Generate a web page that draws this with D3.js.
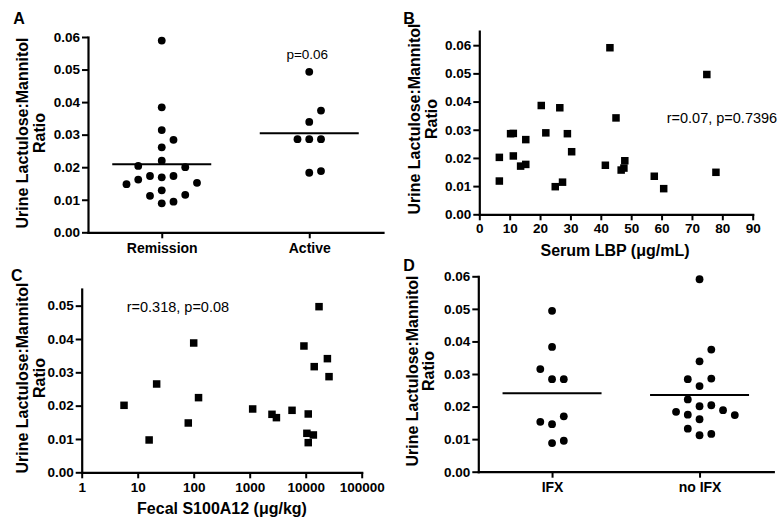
<!DOCTYPE html>
<html>
<head>
<meta charset="utf-8">
<script src="https://cdn.jsdelivr.net/npm/d3@7"></script>
<style>
  html, body { margin: 0; padding: 0; background: #fff; }
  svg { display: block; font-family: "Liberation Sans", Arial, Helvetica, sans-serif; }
  .axis .domain { stroke: #000; stroke-width: 2.2px; stroke-linecap: square; }
  .axis .tick line { stroke: #000; stroke-width: 2px; }
  .axis .tick text { font-family: "Liberation Sans", Arial, Helvetica, sans-serif; font-weight: bold; font-size: 13.5px; fill: #000; }
  .axis.cat .tick text { font-size: 14px; }
</style>
</head>
<body>
<svg id="chart" width="783" height="521"></svg>
<script>
// ---------------- DATA ----------------
// Panel A: disease activity groups
const groupsA = ["Remission", "Active"];
const remission = [0.0589, 0.0384, 0.0314, 0.0261, 0.0284, 0.0220, 0.0169, 0.0173, 0.0173, 0.0200,
                   0.0204, 0.0162, 0.0129, 0.0089, 0.0094, 0.0112, 0.0115, 0.0152, 0.0148];
const active = [0.0493, 0.0339, 0.0374, 0.0286, 0.0286, 0.0286, 0.0183, 0.0188];
const pTextA = "p=0.06";

// Panel B: serum LBP vs ratio
const lbp      = [6.6, 6.6, 10.3, 11.2, 11.2, 13.6, 15.3, 15.3, 20.4, 21.9, 25.0, 26.5, 27.4,
                  29.0, 30.4, 43.0, 45.0, 41.5, 46.7, 47.6, 47.9, 57.6, 60.7, 74.9, 77.9];
const lbpRatio = [0.0202, 0.0118, 0.0286, 0.0287, 0.0207, 0.0171, 0.0177, 0.0265, 0.0386, 0.0289,
                  0.0098, 0.0378, 0.0114, 0.0286, 0.0222, 0.0591, 0.0342, 0.0174, 0.0157, 0.0164,
                  0.0190, 0.0135, 0.0091, 0.0496, 0.0149];
const statB = "r=0.07, p=0.7396";

// Panel C: fecal S100A12 vs ratio
const s100      = [5.7, 16, 21.8, 80, 100, 122, 1130, 2500, 3000, 5700, 9300, 17300, 14200,
                   24400, 26100, 11100, 10500, 13700, 11100];
const s100Ratio = [0.0201, 0.0097, 0.0265, 0.0148, 0.0388, 0.0224, 0.0190, 0.0174, 0.0164, 0.0186,
                   0.0379, 0.0497, 0.0317, 0.0341, 0.0287, 0.0175, 0.0117, 0.0112, 0.0089];
const statC = "r=0.318, p=0.08";

// Panel D: infliximab groups
const groupsD = ["IFX", "no IFX"];
const ifx   = [0.0494, 0.0383, 0.0284, 0.0284, 0.0315, 0.0146, 0.0170, 0.0153, 0.0088, 0.0095];
const noIfx = [0.0591, 0.0339, 0.0375, 0.0263, 0.0286, 0.0284, 0.0201, 0.0204, 0.0222, 0.0189,
               0.0184, 0.0161, 0.0112, 0.0116, 0.0132, 0.0175, 0.0174];

// Ticks and labels
const ratioTicks  = [0, 0.01, 0.02, 0.03, 0.04, 0.05, 0.06];
const ratioTicksC = [0, 0.01, 0.02, 0.03, 0.04, 0.05];
const lbpTicks    = [0, 10, 20, 30, 40, 50, 60, 70, 80, 90];
const s100Ticks   = [1, 10, 100, 1000, 10000, 100000];
const yTitle1 = "Urine Lactulose:Mannitol";
const yTitle2 = "Ratio";
const xTitleB = "Serum LBP (\u03BCg/mL)";
const xTitleC = "Fecal S100A12 (\u03BCg/kg)";
const panelLetters = ["A", "B", "C", "D"];

// ---------------- LAYOUT / STYLE ----------------
const FONT = '"Liberation Sans", Arial, Helvetica, sans-serif';
const DOT_R = 3.9, SQ = 7.5;
const SWARM_STEP = 11.75, SWARM_COLLIDE = 12.8, SWARM_MIN = 12.65;
const MEAN_HALF = 49.5;

const svg = d3.select("#chart");
const fmt2 = d3.format(".2f");

// beeswarm placement: each point goes to the column nearest the centre where it does not collide
function swarm(values, y, cx) {
  const placed = [];
  return values.map(v => {
    const py = y(v);
    let k = 0, off = 0;
    for (;;) {
      off = k === 0 ? 0 : (k % 2 === 1 ? (k + 1) / 2 : -k / 2);
      const o = off;
      if (placed.every(p => Math.hypot((p.off - o) * SWARM_COLLIDE, p.py - py) >= SWARM_MIN)) break;
      k++;
    }
    placed.push({ off, py });
    return { v, x: cx + off * SWARM_STEP, y: py };
  });
}

function yAxis(scale, ticks, x) {
  svg.append("g").attr("class", "axis")
    .attr("transform", `translate(${x},0)`)
    .call(d3.axisLeft(scale).tickValues(ticks).tickFormat(fmt2).tickSize(6).tickPadding(2).tickSizeOuter(0));
}

function yTitle(x1, x2, yc) {
  [[yTitle1, x1], [yTitle2, x2]].forEach(([t, x]) => {
    svg.append("text")
      .attr("transform", `translate(${x},${yc}) rotate(-90)`)
      .attr("text-anchor", "middle")
      .style("font-family", FONT).style("font-size", "16px").style("font-weight", "bold").style("fill", "#000")
      .text(t);
  });
}

function letter(t, x, y) {
  svg.append("text").attr("x", x).attr("y", y).attr("text-anchor", "middle")
    .style("font-family", FONT).style("font-size", "16px").style("font-weight", "bold").text(t);
}

function plainText(t, x, y, size, anchor, weight) {
  svg.append("text").attr("x", x).attr("y", y).attr("text-anchor", anchor || "start")
    .style("font-family", FONT).style("font-size", size + "px").style("font-weight", weight || "normal")
    .style("fill", "#000").text(t);
}

function dotPanel(groups, seriesList, xRange, yRange, axisX) {
  const y = d3.scaleLinear().domain([0, 0.06]).range(yRange);
  const x = d3.scalePoint().domain(groups).range(xRange).padding(0.5);
  yAxis(y, ratioTicks, axisX);
  svg.append("g").attr("class", "axis cat")
    .attr("transform", `translate(0,${yRange[0]})`)
    .call(d3.axisBottom(x).tickSize(6).tickPadding(4.3).tickSizeOuter(0));
  groups.forEach((gname, i) => {
    const cx = x(gname);
    const pts = swarm(seriesList[i], y, cx);
    svg.append("g").selectAll("circle").data(pts).join("circle")
      .attr("cx", d => d.x).attr("cy", d => d.y).attr("r", DOT_R).attr("fill", "#000");
    const m = d3.mean(seriesList[i]);
    svg.append("line")
      .attr("x1", cx - MEAN_HALF).attr("x2", cx + MEAN_HALF)
      .attr("y1", y(m)).attr("y2", y(m))
      .attr("stroke", "#000").attr("stroke-width", 2);
  });
  return { x, y };
}

// ---------------- PANEL A ----------------
const pA = dotPanel(groupsA, [remission, active], [88, 383], [232.3, 37], 88);
plainText(pTextA, pA.x("Active") - 2, 59, 13.5, "middle");
yTitle(28, 45, 133);
letter(panelLetters[0], 19, 23.7);

// ---------------- PANEL B ----------------
{
  const x = d3.scaleLinear().domain([0, 90]).range([479.3, 752.7]);
  const y = d3.scaleLinear().domain([0, 0.065]).range([214.3, 31.1]);
  yAxis(y, ratioTicks, 479.3);
  svg.append("g").attr("class", "axis")
    .attr("transform", "translate(0,214.3)")
    .call(d3.axisBottom(x).tickValues(lbpTicks).tickFormat(d3.format("d")).tickSize(6).tickPadding(3.5).tickSizeOuter(0));
  svg.append("g").selectAll("rect").data(lbp.map((v, i) => [v, lbpRatio[i]])).join("rect")
    .attr("x", d => x(d[0]) - SQ / 2).attr("y", d => y(d[1]) - SQ / 2)
    .attr("width", SQ).attr("height", SQ).attr("fill", "#000");
  plainText(statB, 666.7, 122.5, 14.5);
  plainText(xTitleB, 615, 256, 16, "middle", "bold");
  yTitle(420, 436.5, 119);
  letter(panelLetters[1], 409, 23.7);
}

// ---------------- PANEL C ----------------
{
  const x = d3.scaleLog().domain([1, 100000]).range([81.7, 361.7]);
  const y = d3.scaleLinear().domain([0, 0.055]).range([472.3, 289.0]);
  yAxis(y, ratioTicksC, 81.7);
  svg.append("g").attr("class", "axis")
    .attr("transform", "translate(0,472.3)")
    .call(d3.axisBottom(x).tickValues(s100Ticks).tickFormat(d3.format("d")).tickSize(6).tickPadding(4).tickSizeOuter(0));
  svg.append("g").selectAll("rect").data(s100.map((v, i) => [v, s100Ratio[i]])).join("rect")
    .attr("x", d => x(d[0]) - SQ / 2).attr("y", d => y(d[1]) - SQ / 2)
    .attr("width", SQ).attr("height", SQ).attr("fill", "#000");
  plainText(statC, 126.7, 312, 14.5);
  plainText(xTitleC, 222, 514, 16, "middle", "bold");
  yTitle(28.3, 45, 378);
  letter(panelLetters[2], 16.7, 281);
}

// ---------------- PANEL D ----------------
dotPanel(groupsD, [ifx, noIfx], [478.3, 773.3], [471.7, 276.3], 478.3);
yTitle(417.7, 434.3, 371);
letter(panelLetters[3], 409, 271);
</script>
</body>
</html>
